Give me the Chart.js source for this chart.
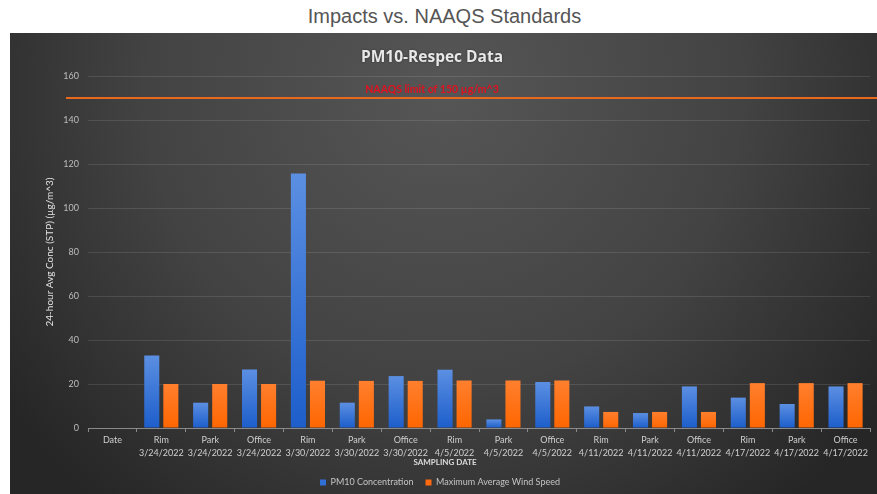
<!DOCTYPE html>
<html>
<head>
<meta charset="utf-8">
<script src="https://cdn.jsdelivr.net/npm/chart.js@4"></script>
<style>
  html, body { margin: 0; padding: 0; background: #fff; width: 877px; height: 494px; overflow: hidden; }
  #heading {
    position: absolute; left: 0; top: 5px; width: 889px; text-align: center;
    font: 20px "Liberation Sans", Arial, sans-serif; color: #555;
  }
  #wrap { position: absolute; left: 10px; top: 33px; width: 867px; height: 461px; }
</style>
</head>
<body>
<div id="heading">Impacts vs. NAAQS Standards</div>
<div id="wrap"><canvas id="c" width="867" height="461"></canvas></div>
<script>
// Sampling sites and dates (first slot is the empty "Date" header column)
const sites = ["Date", "Rim", "Park", "Office", "Rim", "Park", "Office", "Rim", "Park", "Office",
               "Rim", "Park", "Office", "Rim", "Park", "Office"];
const dates = ["", "3/24/2022", "3/24/2022", "3/24/2022", "3/30/2022", "3/30/2022", "3/30/2022",
               "4/5/2022", "4/5/2022", "4/5/2022", "4/11/2022", "4/11/2022", "4/11/2022",
               "4/17/2022", "4/17/2022", "4/17/2022"];

// 24-hour PM10 concentrations (µg/m^3)
const pm10 = [null, 33, 11.5, 26.6, 115.7, 11.5, 23.6, 26.5, 3.9, 20.9, 9.8, 6.8, 18.9, 13.8, 10.9, 18.9];
// Maximum average wind speed
const windSpeed = [null, 20, 20, 20, 21.5, 21.4, 21.4, 21.6, 21.6, 21.6, 7.3, 7.3, 7.3, 20.4, 20.4, 20.4];

// 24-hour PM10 standard
const NAAQS_LIMIT = 150;
const limitLabel = "NAAQS limit of 150 µg/m^3";

const yTicks = [0, 20, 40, 60, 80, 100, 120, 140, 160];

const labels = sites.map((s, i) => dates[i] ? [s, dates[i]] : [s]);

const FONT = "Lato, 'Open Sans', sans-serif";

// per-bar vertical gradient
function barGradient(top, bottom) {
  return function (ctx) {
    const chart = ctx.chart;
    if (!chart.chartArea || ctx.type !== 'data') return bottom;
    const ys = chart.scales.y;
    const v = ctx.raw;
    if (v == null) return bottom;
    const y1 = ys.getPixelForValue(v), y0 = ys.getPixelForValue(0);
    if (!isFinite(y1) || !isFinite(y0) || y0 === y1) return bottom;
    const g = chart.ctx.createLinearGradient(0, y1, 0, y0);
    g.addColorStop(0, top);
    g.addColorStop(1, bottom);
    return g;
  };
}

const backdrop = {
  id: 'backdrop',
  beforeDraw(chart) {
    const { ctx, width, height } = chart;
    ctx.save();
    const g = ctx.createRadialGradient(width * 0.5, height * 0.12, 0, width * 0.5, height * 0.12, width * 0.62);
    g.addColorStop(0, '#565656');
    g.addColorStop(0.55, '#434343');
    g.addColorStop(1, '#262626');
    ctx.fillStyle = g;
    ctx.fillRect(0, 0, width, height);
    ctx.restore();
  }
};

const decorations = {
  id: 'decorations',
  afterDatasetsDraw(chart) {
    const { ctx, width, chartArea } = chart;
    const ys = chart.scales.y;
    const yl = ys.getPixelForValue(NAAQS_LIMIT);
    ctx.save();
    // limit line
    ctx.strokeStyle = '#e8691e';
    ctx.lineWidth = 2.2;
    ctx.beginPath();
    ctx.moveTo(chartArea.left - 22, yl);
    ctx.lineTo(width, yl);
    ctx.stroke();
    // limit label
    ctx.fillStyle = '#e0101e';
    ctx.font = "bold 10.5px " + FONT;
    ctx.textAlign = 'center';
    ctx.textBaseline = 'middle';
    ctx.fillText(limitLabel, 422, yl - 8);
    // chart title
    ctx.fillStyle = '#e8e8e8';
    ctx.font = "bold 15.5px 'Open Sans', sans-serif";
    ctx.shadowColor = 'rgba(0,0,0,0.5)';
    ctx.shadowBlur = 2;
    ctx.fillText("PM10-Respec Data", 422, 25);
    ctx.shadowBlur = 0;
    // x axis title
    ctx.fillStyle = '#dcdcdc';
    ctx.font = "bold 8px " + FONT;
    ctx.fillText("SAMPLING DATE", 435, chartArea.bottom + 34);
    ctx.restore();
  }
};

new Chart(document.getElementById('c'), {
  type: 'bar',
  data: {
    labels: labels,
    datasets: [
      {
        label: 'PM10 Concentration',
        data: pm10,
        backgroundColor: barGradient('#5b8fe2', '#1d5ecb'),
        borderWidth: 0,
        categoryPercentage: 0.78,
        barPercentage: 0.79
      },
      {
        label: 'Maximum Average Wind Speed',
        data: windSpeed,
        backgroundColor: barGradient('#ff7f2e', '#ff6600'),
        borderWidth: 0,
        categoryPercentage: 0.78,
        barPercentage: 0.79
      }
    ]
  },
  options: {
    responsive: false,
    animation: false,
    layout: { padding: { top: 43, right: 7, left: 0, bottom: -3 } },
    plugins: {
      title: { display: false },
      tooltip: { enabled: false },
      legend: {
        position: 'bottom',
        labels: {
          color: '#c4c4c4',
          font: { family: FONT, size: 9 },
          boxWidth: 6,
          boxHeight: 6,
          padding: 12,
          generateLabels(chart) {
            const cols = ['#2f6fd6', '#ff6a10'];
            return chart.data.datasets.map((d, i) => ({
              text: d.label, fillStyle: cols[i], strokeStyle: cols[i], lineWidth: 0,
              datasetIndex: i, hidden: false, fontColor: '#c4c4c4'
            }));
          }
        }
      }
    },
    scales: {
      x: {
        grid: {
          offset: true,
          drawOnChartArea: false,
          color: '#8a8a8a',
          tickLength: 4
        },
        border: { color: '#8a8a8a', width: 1 },
        ticks: {
          color: '#cfcfcf',
          font: { family: FONT, size: 9, lineHeight: 1.5 },
          padding: 1,
          maxRotation: 0,
          autoSkip: false
        },
        afterFit(scale) { scale.height = 38; }
      },
      y: {
        min: 0,
        max: 160,
        afterBuildTicks(scale) { scale.ticks = yTicks.map(v => ({ value: v })); },
        grid: {
          color: 'rgba(255,255,255,0.11)',
          drawTicks: false
        },
        border: { display: false },
        ticks: {
          color: '#bdbdbd',
          font: { family: FONT, size: 9 },
          padding: 9
        },
        title: {
          display: true,
          text: '24-hour Avg Conc (STP) (µg/m^3)',
          color: '#e2e2e2',
          font: { family: FONT, size: 10 },
          padding: { top: 34, bottom: 0 }
        },
        afterFit(scale) { scale.width = 78; }
      }
    }
  },
  plugins: [backdrop, decorations]
});
</script>
</body>
</html>
